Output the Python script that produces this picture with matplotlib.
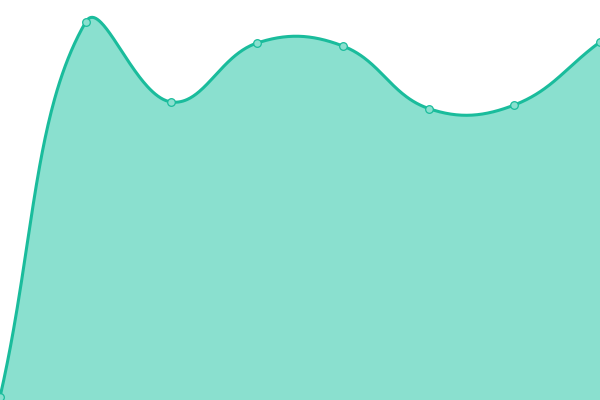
import numpy as np
import matplotlib
matplotlib.use("Agg")
import matplotlib.pyplot as plt

# values (0 at bottom, 400 at top)
x_idx = [0, 1, 2, 3, 4, 5, 6, 7]
values = [3, 378, 298, 357, 354, 291.5, 295, 358]

TENSION = 0.4


def smooth_curve(px, py, t=TENSION, n=80):
    """Bezier smoothing in pixel space, tension-style control points."""
    pts = np.column_stack([px, py]).astype(float)
    k = len(pts)
    cp_prev = pts.copy()
    cp_next = pts.copy()
    for i in range(k):
        p0 = pts[i - 1] if i > 0 else pts[i]
        p1 = pts[i]
        p2 = pts[i + 1] if i < k - 1 else pts[i]
        d01 = np.hypot(*(p1 - p0))
        d12 = np.hypot(*(p2 - p1))
        s = d01 + d12
        fa = t * d01 / s if s else 0
        fb = t * d12 / s if s else 0
        cp_prev[i] = p1 - fa * (p2 - p0)
        cp_next[i] = p1 + fb * (p2 - p0)
    u = np.linspace(0, 1, n)[:, None]
    out = []
    for i in range(k - 1):
        a, b, c, d = pts[i], cp_next[i], cp_prev[i + 1], pts[i + 1]
        seg = ((1 - u) ** 3 * a + 3 * (1 - u) ** 2 * u * b
               + 3 * (1 - u) * u ** 2 * c + u ** 3 * d)
        out.append(seg if i == 0 else seg[1:])
    out = np.vstack(out)
    return out[:, 0], out[:, 1]


W, H = 600, 400
fig = plt.figure(figsize=(6, 4), dpi=100)
ax = fig.add_axes([0, 0, 1, 1])

# work in pixel units so the smoothing matches screen geometry
px = np.array(x_idx) * W / (len(x_idx) - 1)
py = np.array(values, float)
xs, ys = smooth_curve(px, py)

ax.fill_between(xs, 0, ys, color="#8ae0cf", linewidth=0)
ax.plot(xs, ys, color="#1abc9c", linewidth=2.2, solid_capstyle="round")
ax.plot(px, py, "o", markersize=5.5, markerfacecolor="#8ae0cf",
        markeredgecolor="#1abc9c", markeredgewidth=0.9, clip_on=False)

ax.set_xlim(0, W)
ax.set_ylim(0, H)
ax.axis("off")

fig.savefig("out.png", dpi=100)
